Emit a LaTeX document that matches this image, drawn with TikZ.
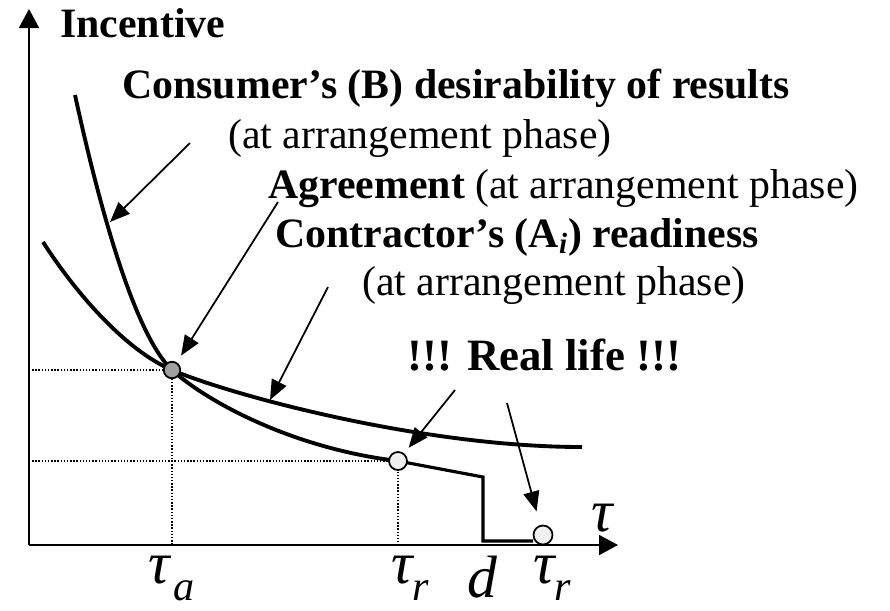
\documentclass[tikz,border=0pt]{standalone}
\usepackage{fontspec}
\setmainfont{Liberation Serif}
\usetikzlibrary{arrows.meta}
\newcommand{\lowsub}[1]{\raisebox{-10pt}{\fontsize{24}{24}\selectfont\itshape #1}}

\begin{document}
\begin{tikzpicture}[x=0.02cm,y=-0.02cm,
  every node/.style={inner sep=0pt},
  txt/.style={anchor=base west,font=\fontsize{23.8}{28}\selectfont},
  head/.style={anchor=base west,font=\fontsize{23.8}{28}\selectfont\bfseries},
  sym/.style={anchor=base west,font=\fontsize{34}{40}\selectfont\itshape},
  axis/.style={line width=1.1pt,-{Triangle[length=0.38cm,width=0.4cm]}},
  curve/.style={line width=2.2pt},
  ptr/.style={line width=1pt,-{Triangle[length=0.4cm,width=0.32cm]}},
  guide/.style={densely dotted,line width=0.8pt},
  dot/.style={circle,draw,line width=1pt,minimum size=0.36cm}]
 \useasboundingbox (0,0) rectangle (890,610);
 % axes
 \coordinate (o) at (29,545);
 \coordinate (ytip) at (29,9); \coordinate (xtip) at (618,545);
 \draw[axis] (o) -- (ytip);
 \draw[axis] (o) -- (xtip);
 % agreement, result, real life
 \coordinate (a) at (172,370); \coordinate (r) at (398,461);
 \coordinate (s) at (543,535); \coordinate (d) at (483,477);
 \draw[guide] (29,370) -- (a) -- (172,545);
 \draw[guide] (29,461) -- (r) -- (398,545);
 % consumer's desirability
 \draw[curve] (75,95) .. controls (100,210) and (135,335) .. (a)
   .. controls (205,400) and (290,448) .. (r);
 \draw[line width=1.8pt] (r) -- (d) -- (483,541) -- (533,541);
 % contractor's readiness
 \draw[curve] (43,242) .. controls (75,292) and (125,350) .. (a)
   .. controls (228,394) and (420,447) .. (582,447);
 \node[dot,fill=gray!75,minimum size=0.33cm] (agree) at (a) {};
 \node[dot,fill=gray!12] (real1) at (r) {};
 \node[dot,fill=gray!12,minimum size=0.38cm] (real2) at (s) {};
 % texts
 \node[head] (inc) at (60,37) {Incentive};
 \node[head] (cons) at (122,98) {Consumer’s (B) desirability of results};
 \node[txt] (cons2) at (228,148) {(at arrangement phase)};
 \node[txt] (agr) at (268,198) {\textbf{Agreement} (at arrangement phase)};
 \node[head] (contr) at (275,247) {Contractor’s (A\textsubscript{\textit{i}}) readiness};
 \node[txt] (contr2) at (362,295) {(at arrangement phase)};
 \node[head,font=\fontsize{25.5}{30}\selectfont\bfseries] (life) at (407,370) {!!! Real life !!!};
 \node[sym] (tau) at (591,531) {τ};
 \node[sym] (taua) at (148,583) {τ\kern2pt\lowsub{a}};
 \node[sym] (taur) at (391,583) {τ\lowsub{r}};
 \node[sym] (dl) at (467,597) {d};
 \node[sym] (taur2) at (533,583) {τ\lowsub{r}};
 % pointers
 \coordinate (c1) at (190,143); \coordinate (t1) at (110,222);
 \coordinate (c2) at (278,202);
 \coordinate (c3) at (328,287); \coordinate (t3) at (270,400);
 \coordinate (c4) at (455,390); \coordinate (c5) at (507,403);
 \draw[ptr] (c1) -- (t1);
 \draw[ptr,shorten >=4.5pt] (c2) -- (agree);
 \draw[ptr] (c3) -- (t3);
 \draw[ptr,shorten >=4pt] (c4) -- (real1);
 \draw[ptr,shorten >=8pt] (c5) -- (real2);
\end{tikzpicture}
\end{document}
